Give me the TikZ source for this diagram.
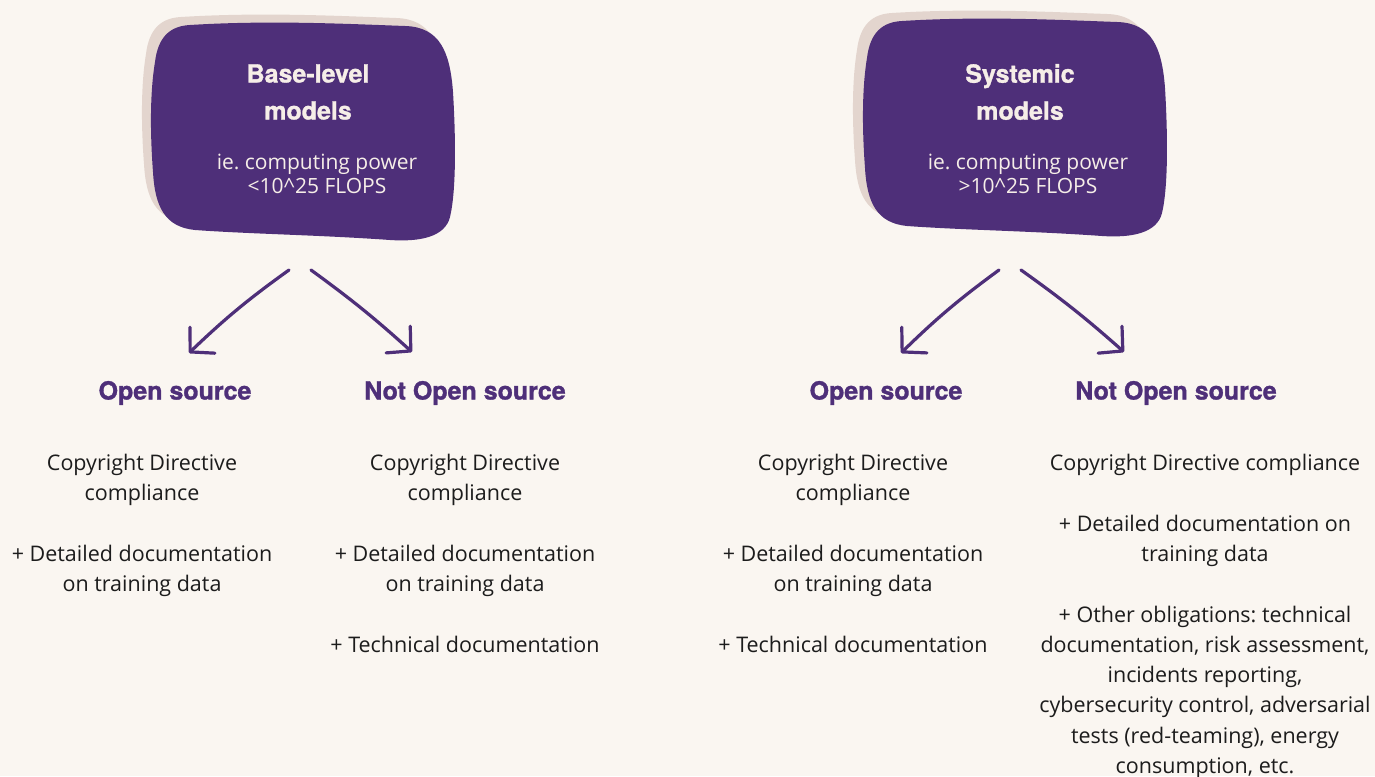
\documentclass[tikz,border=0pt]{standalone}
\usepackage{fontspec}
\setmainfont{Open Sans}
\newfontfamily\headfont[FakeBold=1.2]{TeX Gyre Heros}
\usetikzlibrary{arrows.meta}
\frenchspacing
\definecolor{bg}{HTML}{FAF6F1}
\definecolor{purp}{HTML}{4E2F79}
\definecolor{shad}{HTML}{E3D5CE}
\definecolor{ink}{HTML}{1C1C1C}
\definecolor{boxtxt}{HTML}{F6EEE8}
\newcommand\myblob[3]{%
  \fill[#3, shift={(#1,#2)}]
    (40,3) .. controls (120,-2) and (200,2) .. (255,4)
    .. controls (290,5) and (300,30) .. (303,70)
    .. controls (306,120) and (306,170) .. (300,195)
    .. controls (295,215) and (270,220) .. (240,218)
    .. controls (170,213) and (100,212) .. (45,208)
    .. controls (15,205) and (5,185) .. (3,150)
    .. controls (0,110) and (0,70) .. (5,40)
    .. controls (8,15) and (20,4) .. (40,3) -- cycle;}
\begin{document}
\begin{tikzpicture}[x=1pt,y=-1pt,
  title/.style={font=\headfont\bfseries\fontsize{25}{37}\selectfont, text=boxtxt, align=center, inner sep=0pt},
  sub/.style={font=\fontsize{21}{24}\selectfont, text=boxtxt, align=center, inner sep=0pt},
  head/.style={font=\headfont\bfseries\fontsize{25}{30}\selectfont, text=purp, inner sep=0pt},
  body/.style={font=\fontsize{21.5}{30.3}\selectfont, text=ink, align=center, inner sep=0pt, anchor=north},
  arr/.style={draw=purp, line width=3.2pt, line cap=round,
     -{Straight Barb[length=17pt,width=36pt,line width=3.2pt,round]}}]
\fill[bg] (0,0) rectangle (1375,776);
\useasboundingbox (0,0) rectangle (1375,776);
% boxes
\myblob{141}{14}{shad}
\myblob{150}{22}{purp}
\myblob{852}{10}{shad}
\myblob{862}{18}{purp}
% box texts
\node[title] (t1) at (308,92) {Base-level\\models};
\node[sub] (s1) at (317,174) {ie. computing power\\<10\^{}25 FLOPS};
\node[title] (t2) at (1020,92) {Systemic\\models};
\node[sub] (s2) at (1028,174) {ie. computing power\\>10\^{}25 FLOPS};
% arrow coordinates
\coordinate (a1s) at (289,270); \coordinate (a1e) at (189,353);
\coordinate (a2s) at (311,270); \coordinate (a2e) at (412,352);
\coordinate (a3s) at (999,270); \coordinate (a3e) at (901,353);
\coordinate (a4s) at (1021,270); \coordinate (a4e) at (1124,352);
\draw[arr] (a1s) to[bend right=4] (a1e);
\draw[arr] (a2s) to[bend left=3] (a2e);
\draw[arr] (a3s) to[bend right=4] (a3e);
\draw[arr] (a4s) to[bend left=3] (a4e);
% headings
\node[head] (h1) at (175,393) {Open source};
\node[head] (h2) at (465,393) {Not Open source};
\node[head] (h3) at (886,393) {Open source};
\node[head] (h4) at (1176,393) {Not Open source};
% body
\node[body] (b1) at (142,454) {Copyright Directive\\compliance\\[30.3pt]+ Detailed documentation\\on training data};
\node[body] (b2) at (465,454) {Copyright Directive\\compliance\\[30.3pt]+ Detailed documentation\\on training data\\[30.3pt]+ Technical documentation};
\node[body] (b3) at (853,454) {Copyright Directive\\compliance\\[30.3pt]+ Detailed documentation\\on training data\\[30.3pt]+ Technical documentation};
\node[body] (b4) at (1205,454) {Copyright Directive compliance\\[30.3pt]+ Detailed documentation on\\training data\\[30.3pt]+ Other obligations: technical\\documentation, risk assessment,\\incidents reporting,\\cybersecurity control, adversarial\\tests (red-teaming), energy\\consumption, etc.};
\end{tikzpicture}
\end{document}
